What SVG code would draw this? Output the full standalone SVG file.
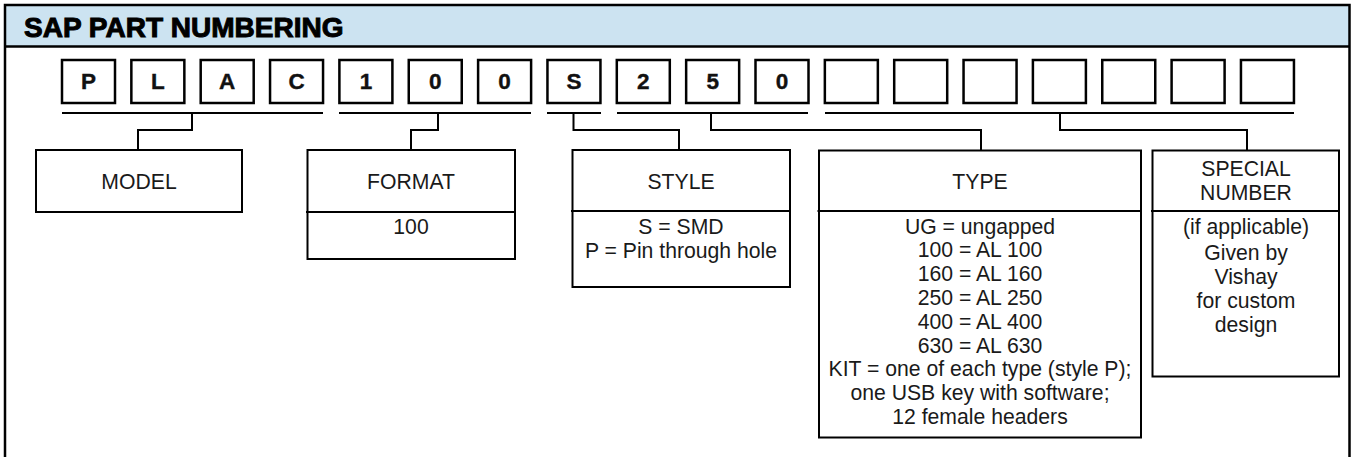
<svg xmlns="http://www.w3.org/2000/svg" width="1351" height="457" viewBox="0 0 1351 457">
<style>
.frame{fill:none;stroke:#000;stroke-width:2.5}
.cell{fill:#fff;stroke:#000;stroke-width:2.5}
.box{fill:#fff;stroke:#000;stroke-width:2}
.ln{fill:none;stroke:#000;stroke-width:2}
.ch{font-family:"Liberation Sans",Arial,sans-serif;font-weight:bold;font-size:22.5px;fill:#111;stroke:#111;stroke-width:0.4;text-anchor:middle}
.t{font-family:"Liberation Sans",Arial,sans-serif;font-size:21.2px;fill:#1a1a1a;text-anchor:middle}
.title{font-family:"Liberation Sans",Arial,sans-serif;font-weight:900;font-size:28px;fill:#000;stroke:#000;stroke-width:1}
</style>
<rect x="0" y="0" width="1351" height="457" fill="#fff"/>
<g id="header">
<rect x="5" y="5" width="1344.5" height="41.5" fill="#cce3f1"/>
<rect class="frame" x="5" y="5" width="1344.5" height="520"/>
<line class="frame" x1="5" y1="46.5" x2="1349.5" y2="46.5"/>
<text class="title" x="24" y="36.5">SAP PART NUMBERING</text>
</g>
<g id="cells">
<rect class="cell" x="62" y="60" width="53" height="43"/><text class="ch" x="88.5" y="89">P</text>
<rect class="cell" x="131.35" y="60" width="53" height="43"/><text class="ch" x="157.85" y="89">L</text>
<rect class="cell" x="200.7" y="60" width="53" height="43"/><text class="ch" x="227.2" y="89">A</text>
<rect class="cell" x="270.05" y="60" width="53" height="43"/><text class="ch" x="296.55" y="89">C</text>
<rect class="cell" x="339.4" y="60" width="53" height="43"/><text class="ch" x="365.9" y="89">1</text>
<rect class="cell" x="408.75" y="60" width="53" height="43"/><text class="ch" x="435.25" y="89">0</text>
<rect class="cell" x="478.1" y="60" width="53" height="43"/><text class="ch" x="504.6" y="89">0</text>
<rect class="cell" x="547.45" y="60" width="53" height="43"/><text class="ch" x="573.95" y="89">S</text>
<rect class="cell" x="616.8" y="60" width="53" height="43"/><text class="ch" x="643.3" y="89">2</text>
<rect class="cell" x="686.15" y="60" width="53" height="43"/><text class="ch" x="712.65" y="89">5</text>
<rect class="cell" x="755.5" y="60" width="53" height="43"/><text class="ch" x="782" y="89">0</text>
<rect class="cell" x="824.85" y="60" width="53" height="43"/>
<rect class="cell" x="894.2" y="60" width="53" height="43"/>
<rect class="cell" x="963.55" y="60" width="53" height="43"/>
<rect class="cell" x="1032.9" y="60" width="53" height="43"/>
<rect class="cell" x="1102.25" y="60" width="53" height="43"/>
<rect class="cell" x="1171.6" y="60" width="53" height="43"/>
<rect class="cell" x="1240.95" y="60" width="53" height="43"/>
</g>
<g id="connectors">
<line class="ln" x1="62" y1="113" x2="323" y2="113"/>
<line class="ln" x1="339" y1="113" x2="531" y2="113"/>
<line class="ln" x1="547" y1="113" x2="601" y2="113"/>
<line class="ln" x1="617" y1="113" x2="808" y2="113"/>
<line class="ln" x1="825" y1="113" x2="1294" y2="113"/>
<path class="ln" d="M192,113 V130 H138 V150"/>
<path class="ln" d="M438,113 V130 H411 V150"/>
<path class="ln" d="M573.5,113 V130 H679 V150"/>
<path class="ln" d="M711,113 V130 H981 V150"/>
<path class="ln" d="M1060,113 V130 H1247 V150"/>
</g>
<g id="model">
<rect class="box" x="36" y="150" width="206" height="62"/>
<text class="t" x="139" y="188.5">MODEL</text>
</g>
<g id="format">
<rect class="box" x="307.5" y="150" width="207.5" height="109"/>
<line class="ln" x1="306" y1="212" x2="515" y2="212"/>
<text class="t" x="411" y="188.5">FORMAT</text>
<text class="t" x="411" y="233.5">100</text>
</g>
<g id="style">
<rect class="box" x="572.5" y="150" width="217.5" height="137"/>
<line class="ln" x1="571" y1="211" x2="790" y2="211"/>
<text class="t" x="681" y="188.5">STYLE</text>
<text class="t" x="681" y="233.5">S = SMD</text>
<text class="t" x="681" y="257.5">P = Pin through hole</text>
</g>
<g id="type">
<rect class="box" x="819" y="150.5" width="322" height="287"/>
<line class="ln" x1="817.5" y1="211" x2="1141" y2="211"/>
<text class="t" x="980" y="188.5">TYPE</text>
<text class="t" x="980" y="233.5">UG = ungapped</text>
<text class="t" x="980" y="257.3">100 = AL 100</text>
<text class="t" x="980" y="281.1">160 = AL 160</text>
<text class="t" x="980" y="304.9">250 = AL 250</text>
<text class="t" x="980" y="328.7">400 = AL 400</text>
<text class="t" x="980" y="352.5">630 = AL 630</text>
<text class="t" x="980" y="376.3">KIT = one of each type (style P);</text>
<text class="t" x="980" y="400.1">one USB key with software;</text>
<text class="t" x="980" y="423.9">12 female headers</text>
</g>
<g id="special">
<rect class="box" x="1152.5" y="150.5" width="186.5" height="226"/>
<line class="ln" x1="1151" y1="211" x2="1339" y2="211"/>
<text class="t" x="1246" y="175.5">SPECIAL</text>
<text class="t" x="1246" y="200">NUMBER</text>
<text class="t" x="1246" y="233.5">(if applicable)</text>
<text class="t" x="1246" y="259.5">Given by</text>
<text class="t" x="1246" y="283.5">Vishay</text>
<text class="t" x="1246" y="308">for custom</text>
<text class="t" x="1246" y="331.5">design</text>
</g>
</svg>
